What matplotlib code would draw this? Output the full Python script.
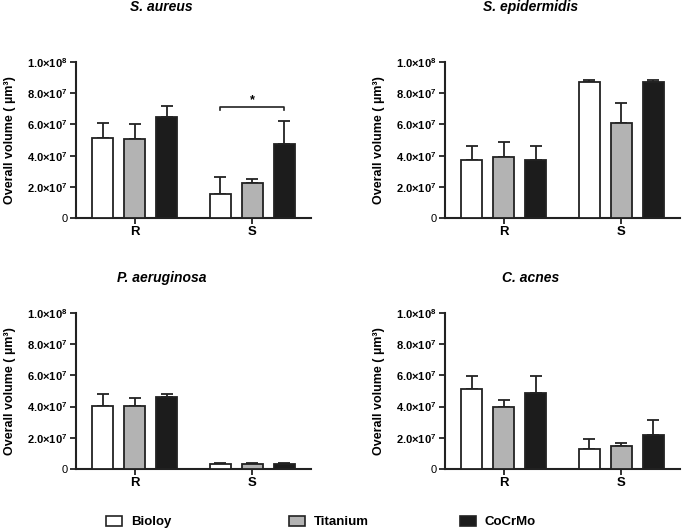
import matplotlib
matplotlib.use("Agg")
from matplotlib import pyplot as plt
from matplotlib.patches import Patch
import numpy as np

plt.rcParams['font.family'] = ['Liberation Sans', 'DejaVu Sans']
plt.rcParams['mathtext.fontset'] = 'custom'
plt.rcParams['mathtext.rm'] = 'Liberation Sans'
plt.rcParams['mathtext.bf'] = 'Liberation Sans:bold'
plt.rcParams['mathtext.it'] = 'Liberation Sans:italic'

groups = ["R", "S"]
materials = ["Bioloy", "Titanium", "CoCrMo"]
colors = ["white", "#b3b3b3", "#1c1c1c"]

titles = ["S. aureus", "S. epidermidis", "P. aeruginosa", "C. acnes"]

# mean values [material][group]
means = [
    [[5.15e7, 1.55e7], [5.05e7, 2.25e7], [6.5e7, 4.75e7]],
    [[3.72e7, 8.72e7], [3.93e7, 6.11e7], [3.72e7, 8.72e7]],
    [[4.04e7, 0.30e7], [4.04e7, 0.33e7], [4.64e7, 0.30e7]],
    [[5.11e7, 1.30e7], [3.96e7, 1.49e7], [4.87e7, 2.21e7]],
]
# upper error (SD)
errs = [
    [[0.92e7, 1.10e7], [0.97e7, 0.24e7], [0.68e7, 1.48e7]],
    [[0.92e7, 0.13e7], [0.92e7, 1.26e7], [0.92e7, 0.13e7]],
    [[0.75e7, 0.06e7], [0.53e7, 0.07e7], [0.17e7, 0.06e7]],
    [[0.85e7, 0.60e7], [0.49e7, 0.19e7], [1.09e7, 0.94e7]],
]

yticks = [0, 2e7, 4e7, 6e7, 8e7, 1e8]
yticklabels = ["0", r"$\mathbf{2.0{\times}10^{7}}$", r"$\mathbf{4.0{\times}10^{7}}$",
               r"$\mathbf{6.0{\times}10^{7}}$", r"$\mathbf{8.0{\times}10^{7}}$",
               r"$\mathbf{1.0{\times}10^{8}}$"]

fig = plt.figure(figsize=(6.85, 5.3), dpi=100)

# axes boxes in pixels: left, right, top, bottom
W, H = 685.0, 530.0
boxes = [(76, 311, 62, 218), (445, 680, 62, 218),
         (76, 311, 313, 469), (445, 680, 313, 469)]
title_y = [7, 7, 278, 278]

width = 0.18
offs = [-0.272, 0, 0.272]
x = np.arange(len(groups))

axes = []
for i in range(4):
    l, r, t, b = boxes[i]
    ax = fig.add_axes([l / W, 1 - b / H, (r - l) / W, (b - t) / H])
    axes.append(ax)
    for m in range(3):
        ax.bar(x + offs[m], means[i][m], width, color=colors[m], edgecolor="#222222",
               linewidth=1.3, zorder=3)
        ax.errorbar(x + offs[m], means[i][m], yerr=[[0, 0], errs[i][m]], fmt="none",
                    ecolor="#222222", elinewidth=1.3, capsize=4, capthick=1.3, zorder=2)
    ax.set_xlim(-0.5, 1.5)
    ax.set_ylim(0, 1e8)
    ax.set_yticks(yticks)
    ax.set_yticklabels(yticklabels, fontsize=8)
    ax.set_xticks(x)
    ax.set_xticklabels(groups, fontsize=9.5, fontweight="bold")
    ax.spines["top"].set_visible(False)
    ax.spines["right"].set_visible(False)
    ax.spines["left"].set_linewidth(1.5)
    ax.spines["bottom"].set_linewidth(1.5)
    ax.spines["left"].set_color("#222222")
    ax.spines["bottom"].set_color("#222222")
    ax.tick_params(axis="both", width=1.3, length=4, color="#222222", pad=2)
    ax.set_ylabel("Overall volume ( µm³)", fontsize=9, fontweight="bold")
    ax.yaxis.set_label_coords(-0.255, 0.5)
    cx = (l + r) / 2.0 - 32
    fig.text(cx / W, 1 - title_y[i] / H, titles[i], fontsize=10, fontweight="bold",
             style="italic", ha="center", va="center")

# significance bracket on S. aureus
ax = axes[0]
x1, x2 = 1 + offs[0], 1 + offs[2]
ax.plot([x1, x1, x2, x2], [6.92e7, 7.13e7, 7.13e7, 6.92e7], color="#222222", lw=1.2)
ax.text(1, 7.2e7, "*", ha="center", va="bottom", fontsize=9, fontweight="bold")

# legend
leg_x = [104, 287, 458]
for m in range(3):
    h = Patch(facecolor=colors[m], edgecolor="#222222", linewidth=1.2)
    lg = fig.legend([h], [materials[m]], loc="center left",
                    bbox_to_anchor=((leg_x[m] - 10) / W, 1 - 522 / H), frameon=False,
                    prop={"size": 9.5, "weight": "bold"}, handlelength=1.2,
                    handleheight=0.8, handletextpad=0.7)

fig.savefig("out.png", dpi=100)
